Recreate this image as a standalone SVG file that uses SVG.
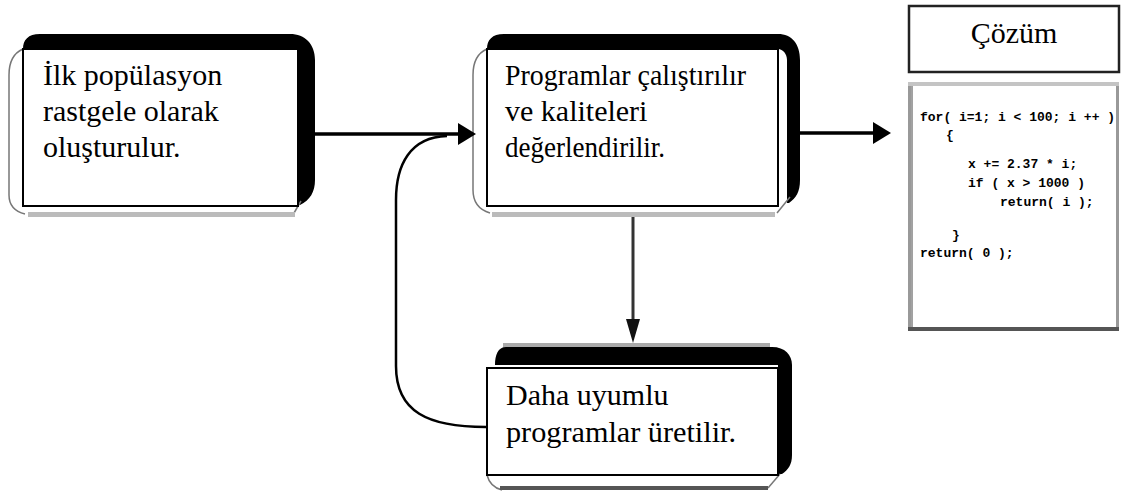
<svg xmlns="http://www.w3.org/2000/svg" width="1124" height="498" viewBox="0 0 1124 498">
  <style>
    .lbl { font-family: "Liberation Serif", "Times New Roman", serif; font-size: 30px; fill: #000; }
    .code { font-family: "Liberation Mono", "Courier New", monospace; font-size: 13px; font-weight: bold; fill: #000; }
    .band { fill: #000; }
    .shade { fill: #bbbbbb; }
    .edge { fill: none; stroke: #777; stroke-width: 1.5; }
    .inner { fill: #fff; stroke: #000; stroke-width: 2; }
    .conn { fill: none; stroke: #000; stroke-width: 3.5; }
    .head { fill: #000; }
  </style>

  <rect width="1124" height="498" fill="#fff"/>

  <!-- start step -->
  <g id="node-initial">
    <path class="band" d="M23 49 C23 40 28 34 40 34 L290 34 C305 34 315 44 315 60 L315 180 C315 192 310 200 300 205 L298 205 L298 49 Z"/>
    <path class="edge" d="M23 49 Q9 55 9 75 L9 195 Q9 210 25 214"/>
    <path class="edge" d="M301 201 L294 213"/>
    <rect class="shade" x="28" y="212" width="267" height="5"/>
    <rect class="inner" x="23" y="49" width="275" height="157"/>
    <text class="lbl" x="43" y="85">İlk popülasyon</text>
    <text class="lbl" x="43" y="121">rastgele olarak</text>
    <text class="lbl" x="43" y="157">oluşturulur.</text>
  </g>

  <!-- evaluation step -->
  <g id="node-evaluate">
    <path class="band" d="M487 49 C487 40 492 34 504 34 L778 34 C792 34 800 44 800 60 L800 180 C800 192 796 198 789 203 L787 203 L787 60 C787 54 783 49 778 49 Z"/>
    <path class="edge" d="M487 49 Q473 55 473 75 L473 190 Q473 208 490 213"/>
    <path class="edge" d="M790 197 L777 213"/>
    <rect class="shade" x="492" y="212" width="283" height="5"/>
    <rect class="inner" x="487" y="49" width="291" height="157"/>
    <text class="lbl" x="505" y="85" textLength="241" lengthAdjust="spacingAndGlyphs">Programlar çalıştırılır</text>
    <text class="lbl" x="505" y="121">ve kaliteleri</text>
    <text class="lbl" x="505" y="157" textLength="160" lengthAdjust="spacingAndGlyphs">değerlendirilir.</text>
  </g>

  <!-- offspring step -->
  <g id="node-breed">
    <rect x="503" y="343" width="267" height="4" fill="#aaaaaa"/>
    <path class="band" d="M495 365 C495 355 498 347 506 347 L772 347 C785 347 792 355 792 365 L792 455 C792 465 788 470 782 474 L778 474 L778 365 Z"/>
    <path class="edge" d="M487 475 Q490 487 502 490"/>
    <path class="edge" d="M780 474 L768 488"/>
    <rect x="500" y="486" width="268" height="4" fill="#555"/>
    <rect class="inner" x="487" y="368" width="291" height="107"/>
    <text class="lbl" x="506" y="405">Daha uyumlu</text>
    <text class="lbl" x="506" y="442" textLength="230" lengthAdjust="spacingAndGlyphs">programlar üretilir.</text>
  </g>

  <!-- result title -->
  <g id="node-result-title">
    <rect x="909" y="6" width="210" height="66" fill="#fff" stroke="#222" stroke-width="2.5"/>
    <text class="lbl" x="1014" y="43" text-anchor="middle">Çözüm</text>
  </g>

  <!-- result program listing -->
  <g id="node-result-code">
    <rect x="909.5" y="83.5" width="208" height="246" fill="#fff" stroke="#999" stroke-width="3"/>
    <rect x="908" y="82" width="211" height="4" fill="#c4c4c4"/>
    <rect x="908" y="327" width="211" height="4" fill="#555"/>
    <line x1="912" y1="86" x2="912" y2="327" stroke="#444" stroke-width="1"/>
    <text class="code" x="920" y="121">for( i=1; i &lt; 100; i ++ )</text>
    <text class="code" x="946" y="139">{</text>
    <text class="code" x="968" y="168">x += 2.37 * i;</text>
    <text class="code" x="968" y="187">if ( x &gt; 1000 )</text>
    <text class="code" x="1000" y="206">return( i );</text>
    <text class="code" x="952" y="239">}</text>
    <text class="code" x="920" y="257">return( 0 );</text>
  </g>

  <!-- connectors -->
  <g id="connectors">
    <line class="conn" x1="307" y1="134" x2="460" y2="134"/>
    <polygon class="head" points="458,123 476,134 458,145"/>

    <path fill="none" stroke="#000" stroke-width="2.5" d="M486 427 C428 427 396 412 396 366 L396 200 C396 165 410 137 447 136"/>

    <line class="conn" x1="800" y1="133" x2="875" y2="133"/>
    <polygon class="head" points="873,122 891,133 873,144"/>

    <line x1="633" y1="217" x2="633" y2="322" stroke="#333" stroke-width="3"/>
    <polygon fill="#111" points="626,319 640,319 633,343"/>
  </g>
</svg>
